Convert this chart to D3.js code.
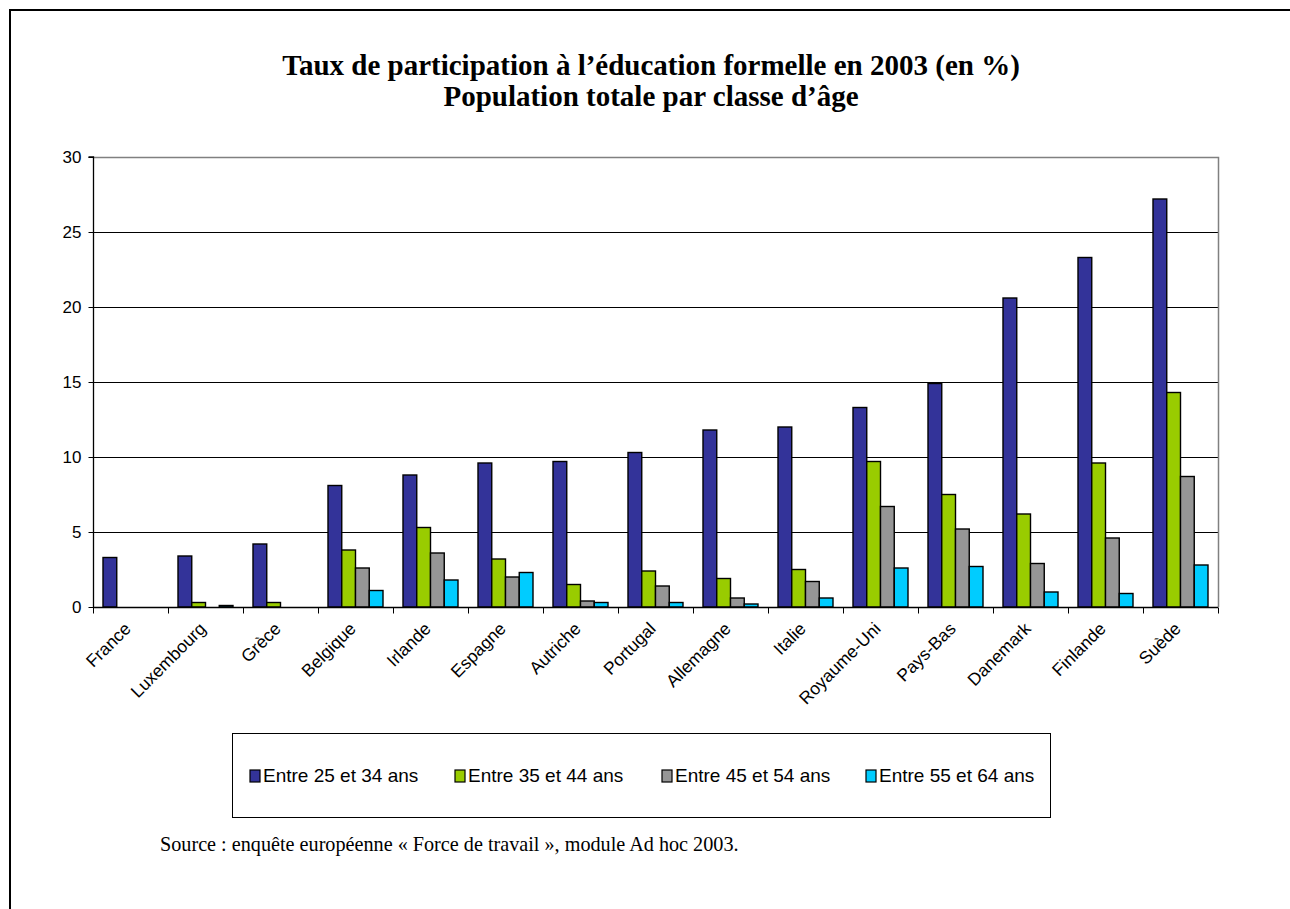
<!DOCTYPE html>
<html><head><meta charset="utf-8">
<script src="https://cdn.jsdelivr.net/npm/d3@7"></script>
<style>body{margin:0;background:#fff}svg{display:block}</style>
</head><body>
<svg id="chart" width="1290" height="909"></svg>
<script>
const countries = ["France","Luxembourg","Grèce","Belgique","Irlande","Espagne","Autriche","Portugal","Allemagne","Italie","Royaume-Uni","Pays-Bas","Danemark","Finlande","Suède"];
const seriesNames = ["Entre 25 et 34 ans","Entre 35 et 44 ans","Entre 45 et 54 ans","Entre 55 et 64 ans"];
const age25_34 = [3.3,3.4,4.2,8.1,8.8,9.6,9.7,10.3,11.8,12.0,13.3,14.9,20.6,23.3,27.2];
const age35_44 = [0,0.3,0.3,3.8,5.3,3.2,1.5,2.4,1.9,2.5,9.7,7.5,6.2,9.6,14.3];
const age45_54 = [0,0,0,2.6,3.6,2.0,0.4,1.4,0.6,1.7,6.7,5.2,2.9,4.6,8.7];
const age55_64 = [0,0.1,0,1.1,1.8,2.3,0.3,0.3,0.2,0.6,2.6,2.7,1.0,0.9,2.8];
const yTicks = [0,5,10,15,20,25,30];
const colors = ["#333399","#99CC00","#969696","#00CCFF"];
const titleLines = ["Taux de participation à l’éducation formelle en 2003 (en %)","Population totale par classe d’âge"];
const sourceText = "Source : enquête européenne « Force de travail », module Ad hoc 2003.";

(function(){
const allSeries = [age25_34, age35_44, age45_54, age55_64];
const svg = d3.select("#chart");
const sans = "Arial,'Liberation Sans',sans-serif";
const serif = "'Liberation Serif','Times New Roman',serif";

// outer frame
svg.append("rect").attr("x",10).attr("y",10).attr("width",1400).attr("height",1000)
  .attr("fill","none").attr("stroke","#000").attr("stroke-width",2);

// title
const title = svg.append("text").attr("text-anchor","middle")
  .attr("font-family",serif).attr("font-weight","bold").attr("font-size",29);
titleLines.forEach((t,i)=>title.append("tspan").attr("x",651).attr("y",75+i*31).text(t));

const pl=93, pr=1218, pt=157, pb=607;
const x0 = d3.scaleBand().domain(countries).range([pl,pr]).padding(0);
const x1 = d3.scaleBand().domain(d3.range(4)).range([10, x0.bandwidth()-10]).padding(0);
const y = d3.scaleLinear().domain([0,30]).range([pb,pt]);

// gridlines
svg.append("g").selectAll("line").data(yTicks.filter(d=>d>0 && d<30)).join("line")
  .attr("x1",pl).attr("x2",pr).attr("y1",d=>y(d)+0.5).attr("y2",d=>y(d)+0.5)
  .attr("stroke","#000").attr("stroke-width",1);
// plot border top/right gray
svg.append("path").attr("d",`M${pl},${y(30)+0.5}H${pr+0.5}V${pb}`)
  .attr("fill","none").attr("stroke","#808080").attr("stroke-width",1.5);

// bars
const g = svg.append("g");
countries.forEach((c,i)=>{
  allSeries.forEach((s,j)=>{
    const v=s[i];
    if(v<=0) return;
    g.append("rect").attr("x",x0(c)+x1(j)).attr("width",x1.bandwidth())
      .attr("y",y(v)).attr("height",y(0)-y(v))
      .attr("fill",colors[j]).attr("stroke","#000").attr("stroke-width",1.4);
  });
});

// y axis
const yAxis = d3.axisLeft(y).tickValues(yTicks).tickSize(5).tickPadding(7).tickFormat(d3.format("d"));
const ya = svg.append("g").attr("transform",`translate(${pl+0.5},0)`).call(yAxis);
ya.select(".domain").attr("stroke","#000").attr("stroke-width",1.3).attr("d",`M-5,${pt}H0V${pb}`);
ya.selectAll(".tick line").attr("stroke","#000");
ya.selectAll("text").attr("font-family",sans).attr("font-size",17).attr("fill","#000");

// x axis
const xa = svg.append("g").attr("transform",`translate(0,${pb+0.5})`);
xa.append("line").attr("x1",pl).attr("x2",pr).attr("stroke","#000").attr("stroke-width",1.5);
xa.selectAll("line.tk").data(countries.concat(["__end"])).join("line").attr("class","tk")
  .attr("x1",(d,i)=>pl+i*x0.bandwidth()+0.5).attr("x2",(d,i)=>pl+i*x0.bandwidth()+0.5)
  .attr("y1",0).attr("y2",6).attr("stroke","#000");
xa.selectAll("text").data(countries).join("text")
  .attr("transform",d=>`translate(${x0(d)+x0.bandwidth()/2-3},${18}) rotate(-45)`)
  .attr("text-anchor","end").attr("dy","0.35em")
  .attr("font-family",sans).attr("font-size",17.5).text(d=>d);

// legend
svg.append("rect").attr("x",232.5).attr("y",733.5).attr("width",818).attr("height",84)
  .attr("fill","#fff").attr("stroke","#000").attr("stroke-width",1);
const legX = [250,455,662,866];
seriesNames.forEach((n,j)=>{
  svg.append("rect").attr("x",legX[j]).attr("y",770).attr("width",10).attr("height",12)
    .attr("fill",colors[j]).attr("stroke","#000").attr("stroke-width",1.2);
  svg.append("text").attr("x",legX[j]+13).attr("y",782)
    .attr("font-family",sans).attr("font-size",19).text(n);
});

// source
svg.append("text").attr("x",160).attr("y",851)
  .attr("font-family",serif).attr("font-size",20.2).text(sourceText);
})();
</script>
</body></html>
